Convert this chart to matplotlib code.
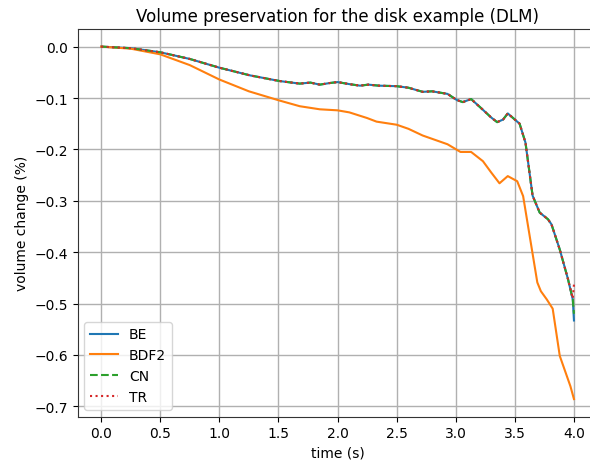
import numpy as np
import matplotlib
matplotlib.use("Agg")
from matplotlib import pyplot as plt

# values
t_be = [0, 0.25, 0.5, 0.75, 1.0, 1.26, 1.51, 1.68, 1.77, 1.85, 1.93, 2.0, 2.1, 2.19, 2.26, 2.35,
        2.5, 2.6, 2.72, 2.8, 2.93, 3.01, 3.06, 3.13, 3.23, 3.3, 3.35, 3.4, 3.44, 3.54, 3.59,
        3.65, 3.71, 3.78, 3.81, 3.88, 3.95, 3.99, 4.0]
be = [0, -0.003, -0.011, -0.024, -0.041, -0.056, -0.067, -0.072, -0.070, -0.074, -0.071, -0.069,
      -0.073, -0.076, -0.074, -0.076, -0.077, -0.080, -0.088, -0.087, -0.092, -0.104, -0.108,
      -0.102, -0.123, -0.138, -0.147, -0.142, -0.130, -0.150, -0.187, -0.290, -0.323, -0.336,
      -0.346, -0.395, -0.453, -0.492, -0.533]
cn = be[:-1] + [-0.520]
tr = be[:-2] + [-0.490, -0.463]

t_bdf2 = [0, 0.25, 0.5, 0.75, 1.0, 1.25, 1.51, 1.68, 1.85, 2.0, 2.1, 2.25, 2.33, 2.5, 2.6, 2.72,
          2.93, 3.04, 3.13, 3.23, 3.3, 3.37, 3.44, 3.52, 3.57, 3.63, 3.69, 3.72, 3.77, 3.82,
          3.88, 3.97, 4.0]
bdf2 = [0, -0.004, -0.015, -0.036, -0.064, -0.087, -0.105, -0.116, -0.122, -0.124, -0.128,
        -0.139, -0.146, -0.152, -0.160, -0.173, -0.190, -0.205, -0.205, -0.223, -0.245, -0.266,
        -0.252, -0.262, -0.291, -0.375, -0.459, -0.476, -0.492, -0.510, -0.602, -0.661, -0.686]

fig = plt.figure(figsize=(5.9, 4.64), dpi=100)
# the reference is cropped on the right, so the axes run past the figure edge
ax = fig.add_axes([77.5 / 590, (464 - 417.7) / 464, (597.6 - 77.5) / 590, (417.7 - 30) / 464])
ax.plot(t_be, be, color="#1f77b4", label="BE")
ax.plot(t_bdf2, bdf2, color="#ff7f0e", label="BDF2")
ax.plot(t_be, cn, color="#2ca02c", linestyle="--", label="CN")
ax.plot(t_be, tr, color="#d62728", linestyle=":", label="TR")

ax.set_title("Volume preservation for the disk example (DLM)")
ax.set_xlabel("time (s)")
ax.set_ylabel("volume change (%)")
ax.set_xticks(np.arange(0, 4.01, 0.5))
ax.grid(True, color="#b0b0b0", linewidth=1.0)
for s in ax.spines.values():
    s.set_color("#333333")
ax.legend(loc="lower left")

fig.savefig("out.png")
